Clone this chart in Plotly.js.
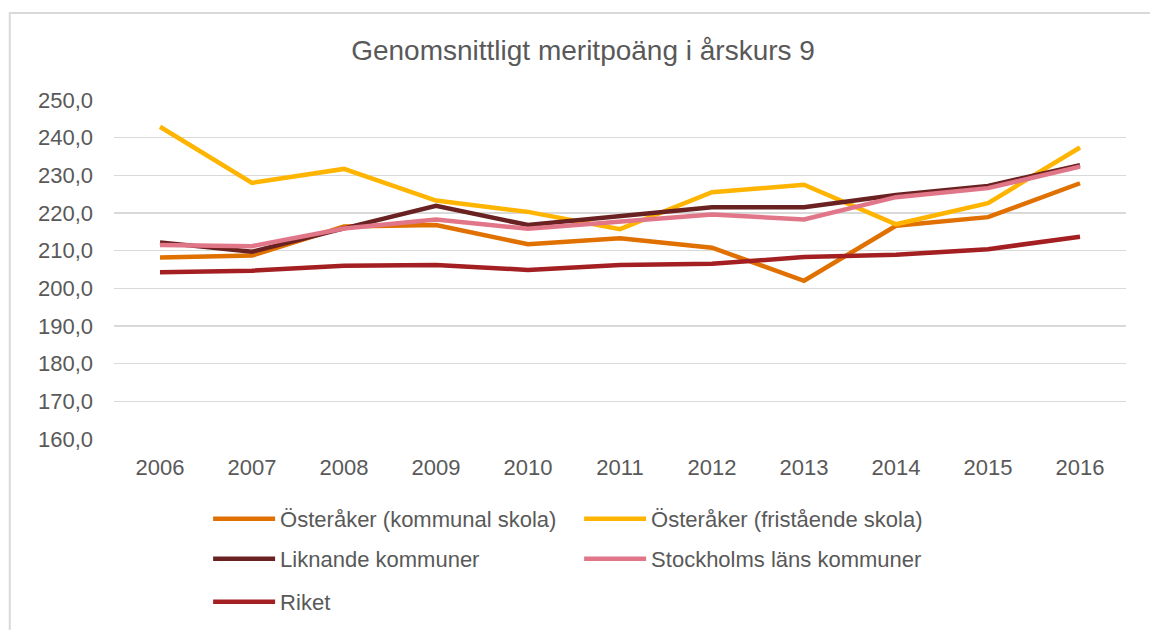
<!DOCTYPE html>
<html>
<head>
<meta charset="utf-8">
<script src="https://cdn.plot.ly/plotly-3.0.1.min.js"></script>
<style>
  html, body { margin: 0; padding: 0; background: #fff; }
  #chart { width: 1150px; height: 630px; }
</style>
</head>
<body>
<div id="chart"></div>
<script>
const years = ["2006","2007","2008","2009","2010","2011","2012","2013","2014","2015","2016"];

const seriesNames = [
  "Österåker (kommunal skola)",
  "Österåker (fristående skola)",
  "Liknande kommuner",
  "Stockholms läns kommuner",
  "Riket"
];

const osterakerKommunal  = [208.2, 208.7, 216.4, 216.8, 211.7, 213.3, 210.8, 202.0, 216.6, 218.9, 227.9];
const osterakerFristaende = [242.9, 228.0, 231.7, 223.3, 220.3, 215.7, 225.5, 227.5, 217.0, 222.6, 237.4];
const liknandeKommuner   = [212.2, 209.7, 215.9, 221.9, 216.8, 219.3, 221.5, 221.5, 224.8, 227.2, 232.7];
const stockholmsLan      = [211.5, 211.2, 215.9, 218.3, 215.8, 217.7, 219.6, 218.3, 224.2, 226.6, 232.3];
const riket              = [204.3, 204.7, 206.0, 206.2, 204.9, 206.2, 206.5, 208.3, 208.9, 210.4, 213.7];

const yTickValues = [160, 170, 180, 190, 200, 210, 220, 230, 240, 250];

const colors = ["#E07000", "#FFB400", "#6A2121", "#E27689", "#A31F22"];
const allSeries = [osterakerKommunal, osterakerFristaende, liknandeKommuner, stockholmsLan, riket];
const legendRow = ["legend", "legend", "legend2", "legend2", "legend3"];

const textColor = "#595959";
const fontFam = "Liberation Sans, Arial, sans-serif";

const traces = allSeries.map((vals, i) => ({
  type: "scatter",
  mode: "lines",
  name: seriesNames[i],
  x: years,
  y: vals,
  legend: legendRow[i],
  line: { color: colors[i], width: 4.5 },
  hoverinfo: "x+y+name"
}));

function legendBox(yPos) {
  return {
    orientation: "h",
    x: 0.093, xanchor: "left",
    y: yPos, yanchor: "top",
    entrywidth: 294,
    entrywidthmode: "pixels",
    itemwidth: 62,
    font: { family: fontFam, size: 22, color: textColor },
    traceorder: "normal",
    bgcolor: "rgba(0,0,0,0)"
  };
}

const layout = {
  width: 1150,
  height: 630,
  paper_bgcolor: "#ffffff",
  plot_bgcolor: "#ffffff",
  separators: ", ",
  margin: { l: 114, r: 24, t: 100, b: 191, pad: 0, autoexpand: false },
  font: { family: fontFam, color: textColor, size: 22 },
  title: {
    text: "Genomsnittligt meritpoäng i årskurs 9",
    font: { family: fontFam, size: 28, color: textColor },
    x: 0.507, xref: "container", xanchor: "center",
    y: 50, yref: "container", yanchor: "middle"
  },
  xaxis: {
    type: "category",
    range: [-0.5, 10.5],
    showgrid: false,
    zeroline: false,
    showline: false,
    ticks: "",
    ticklabelstandoff: 13,
    tickfont: { family: fontFam, size: 22, color: textColor },
    fixedrange: true
  },
  yaxis: {
    range: [160, 250],
    tickvals: yTickValues,
    tickformat: ".1f",
    showgrid: true,
    gridcolor: "#d9d9d9",
    gridwidth: 1.5,
    zeroline: false,
    showline: false,
    ticks: "",
    ticklabelstandoff: 20,
    tickfont: { family: fontFam, size: 22, color: textColor },
    fixedrange: true
  },
  legend: legendBox(-0.174),
  legend2: legendBox(-0.292),
  legend3: legendBox(-0.419),
  shapes: [{
    type: "rect",
    xref: "paper", yref: "paper",
    x0: -0.103, x1: 1.1,
    y0: -0.7, y1: 1.2566,
    line: { color: "#d9d9d9", width: 2 },
    fillcolor: "rgba(0,0,0,0)",
    layer: "below"
  }],
  showlegend: true
};

Plotly.newPlot("chart", traces, layout, { displayModeBar: false, staticPlot: true });
</script>
</body>
</html>
